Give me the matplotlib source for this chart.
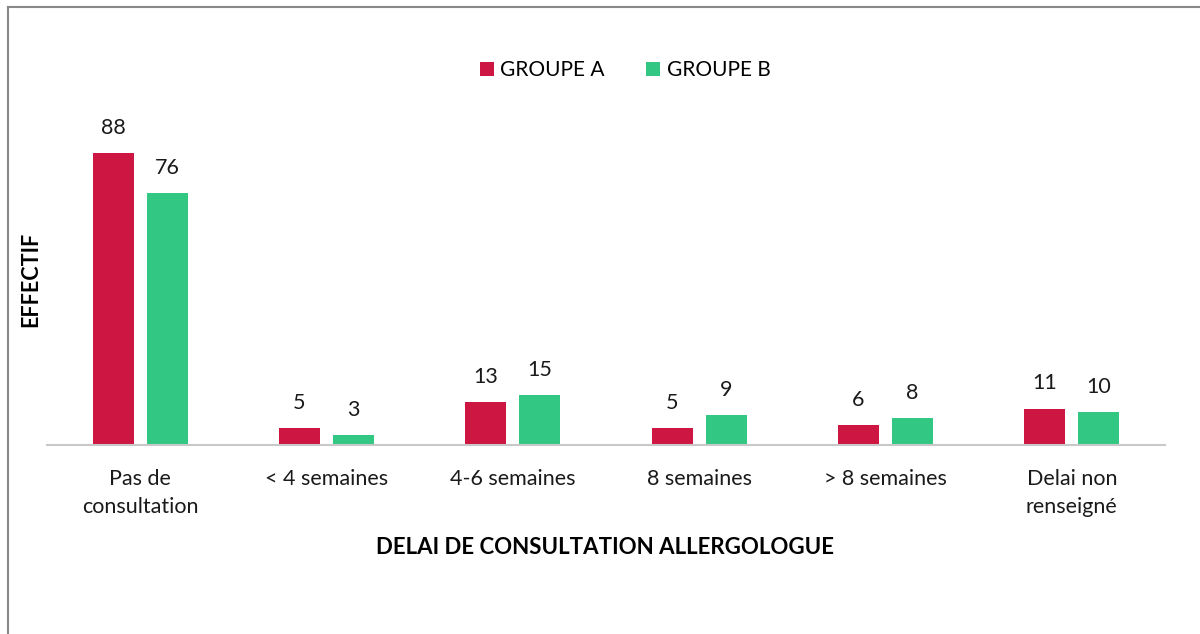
import matplotlib.pyplot as plt
import numpy as np
from matplotlib.lines import Line2D

categories = ["Pas de\nconsultation", "< 4 semaines", "4-6 semaines",
              "8 semaines", "> 8 semaines", "Delai non\nrenseigné"]
groupe_a = [88, 5, 13, 5, 6, 11]
groupe_b = [76, 3, 15, 9, 8, 10]

plt.rcParams['font.family'] = ['Lato', 'DejaVu Sans']

red = '#CD1642'
green = '#32C884'

fig = plt.figure(figsize=(12, 6.34), dpi=100)
ax = fig.add_axes([47/1200, 1-445/634, 1118/1200, 345/634])

x = np.arange(len(categories))
w = 0.22
off = 0.145
b1 = ax.bar(x - off, groupe_a, w, color=red, label='GROUPE A')
b2 = ax.bar(x + off, groupe_b, w, color=green, label='GROUPE B')

for bars in (b1, b2):
    for r in bars:
        ax.annotate(str(int(r.get_height())), (r.get_x() + r.get_width()/2, r.get_height()),
                    xytext=(0, 11), textcoords='offset points', ha='center', va='bottom',
                    fontsize=15.5, color='#1a1a1a')

ax.set_xlim(-0.5, 5.5)
ax.set_ylim(0, 104)
ax.set_xticks(x)
ax.set_xticklabels(categories, fontsize=15.5, color='#1a1a1a', linespacing=1.5)
ax.tick_params(axis='x', length=0, pad=17)
ax.set_yticks([])
for s in ['top', 'right', 'left']:
    ax.spines[s].set_visible(False)
ax.spines['bottom'].set_color('#c8c8c8')
ax.spines['bottom'].set_linewidth(1.5)

fig.text(31/1200, 1-279/634, 'EFFECTIF', rotation=90, ha='center', va='center',
         fontsize=15.5, fontweight='bold', color='#000000')
fig.text(605/1200, 1-548/634, 'DELAI DE CONSULTATION ALLERGOLOGUE', ha='center', va='center',
         fontsize=16, fontweight='bold', color='#000000')

fig.legend(handles=[b1, b2], loc='center', bbox_to_anchor=(625/1200, 1-70/634), ncol=2,
           frameon=False, fontsize=15, handlelength=0.68, handleheight=0.68,
           handletextpad=0.3, columnspacing=2.0)

# outer frame (left and top edges visible)
fig.add_artist(Line2D([8/1200, 8/1200], [0, 1-7/634], color='#888888', lw=1.5,
                      transform=fig.transFigure))
fig.add_artist(Line2D([8/1200, 1], [1-7/634, 1-7/634], color='#888888', lw=1.5,
                      transform=fig.transFigure))

fig.savefig('out.png', dpi=100, facecolor='white')
